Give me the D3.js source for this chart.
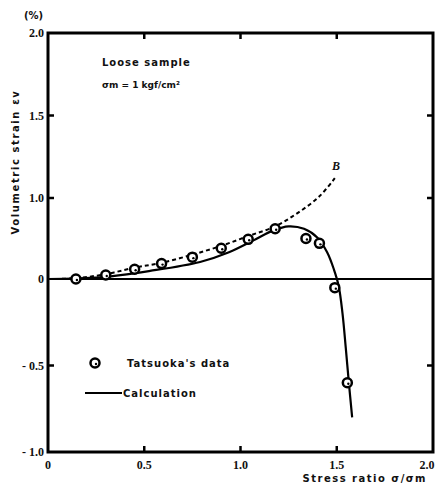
<!DOCTYPE html>
<html>
<head>
<meta charset="utf-8">
<script src="https://cdn.jsdelivr.net/npm/d3@7"></script>
<style>
  body { margin: 0; background: #fff; }
  text { fill: #111; }
</style>
</head>
<body>
<div id="chart"></div>
<script>
// Tatsuoka's data (stress ratio, volumetric strain %)
var dataX = [0.145, 0.30, 0.45, 0.59, 0.75, 0.90, 1.04, 1.18, 1.34, 1.41, 1.49, 1.555];
var dataY = [0.00, 0.05, 0.12, 0.19, 0.27, 0.38, 0.49, 0.62, 0.50, 0.44, -0.05, -0.60];

// calculation (solid line)
var calcX = [0, 0.27, 0.53, 0.79, 0.94, 1.07, 1.17, 1.25, 1.33, 1.40, 1.45, 1.485, 1.51, 1.53, 1.547, 1.563, 1.58];
var calcY = [0, 0.02, 0.10, 0.21, 0.33, 0.48, 0.60, 0.65, 0.62, 0.51, 0.33, 0.12, -0.04, -0.20, -0.40, -0.60, -0.80];

// curve B (dashed)
var bX = [0, 0.145, 0.30, 0.45, 0.59, 0.75, 0.90, 1.04, 1.18, 1.30, 1.41, 1.49];
var bY = [0, 0.01, 0.06, 0.14, 0.20, 0.30, 0.41, 0.53, 0.65, 0.82, 1.01, 1.12];

var xTicks = [0, 0.5, 1.0, 1.5, 2.0];
var xTickLabels = ["0", "0.5", "1.0", "1.5", "2.0"];
var yTicks = [-1.0, -0.5, 0, 1.0, 1.5, 2.0];
var yTickLabels = ["- 1.0", "- 0.5", "0", "1.0", "1.5", "2.0"];

var W = 438, H = 485;
var svg = d3.select('#chart').append('svg')
    .attr('width', W)
    .attr('height', H);

var x = d3.scaleLinear().domain([0, 2]).range([48, 433]);
// the printed axis is not uniform between 0 and 1.0
var y = d3.scaleLinear().domain([-1, 0, 1, 2]).range([452, 279, 198, 33]);

var tickFont = "'Liberation Serif', serif";
var labFont = "'DejaVu Sans', sans-serif";

// inward ticks on all four sides
var tl = 6;
svg.append('g').selectAll('line.xb').data(xTicks.slice(1, 4)).enter().append('line')
    .attr('x1', d => x(d)).attr('x2', d => x(d))
    .attr('y1', y(-1)).attr('y2', y(-1) - tl)
    .attr('stroke', '#000').attr('stroke-width', 2.5);
svg.append('g').selectAll('line.xt').data(xTicks.slice(1, 4)).enter().append('line')
    .attr('x1', d => x(d)).attr('x2', d => x(d))
    .attr('y1', y(2)).attr('y2', y(2) + tl)
    .attr('stroke', '#000').attr('stroke-width', 2.5);
svg.append('g').selectAll('line.yl').data([-0.5, 1.0, 1.5]).enter().append('line')
    .attr('x1', x(0)).attr('x2', x(0) + tl)
    .attr('y1', d => y(d)).attr('y2', d => y(d))
    .attr('stroke', '#000').attr('stroke-width', 2.5);
svg.append('g').selectAll('line.yr').data([-0.5, 1.0, 1.5]).enter().append('line')
    .attr('x1', x(2)).attr('x2', x(2) - tl)
    .attr('y1', d => y(d)).attr('y2', d => y(d))
    .attr('stroke', '#000').attr('stroke-width', 2.5);

// frame
svg.append('rect')
    .attr('x', x(0)).attr('y', y(2))
    .attr('width', x(2) - x(0)).attr('height', y(-1) - y(2))
    .attr('fill', 'none').attr('stroke', '#000').attr('stroke-width', 3);

// zero line
svg.append('line')
    .attr('x1', x(0)).attr('x2', x(2))
    .attr('y1', y(0)).attr('y2', y(0))
    .attr('stroke', '#000').attr('stroke-width', 2);

// tick labels
svg.append('g').selectAll('text').data(xTicks).enter().append('text')
    .attr('x', d => Math.min(x(d), 427)).attr('y', 469)
    .attr('text-anchor', 'middle')
    .style('font', "bold 12px " + tickFont)
    .text((d, i) => xTickLabels[i]);
svg.append('g').selectAll('text').data(yTicks).enter().append('text')
    .attr('x', 44).attr('y', d => y(d) + 4)
    .attr('text-anchor', 'end')
    .style('font', "bold 12px " + tickFont)
    .text((d, i) => yTickLabels[i]);

svg.append('text').attr('x', 24).attr('y', 19)
    .style('font', "bold 10px " + labFont).text('(%)');

// axis titles
svg.append('text')
    .attr('transform', 'translate(19,162) rotate(-90)')
    .attr('text-anchor', 'middle')
    .style('font', "bold 10px " + labFont)
    .style('letter-spacing', '1.6px')
    .text('Volumetric strain εv');
svg.append('text')
    .attr('x', 427).attr('y', 482)
    .attr('text-anchor', 'end')
    .style('font', "bold 10px " + labFont)
    .style('letter-spacing', '1.5px')
    .text('Stress ratio σ/σm');

// annotations
svg.append('text').attr('x', 102).attr('y', 66)
    .style('font', "bold 10px " + labFont).style('letter-spacing', '1px')
    .text('Loose sample');
svg.append('text').attr('x', 102).attr('y', 88)
    .style('font', "bold 9px " + labFont)
    .text('σm = 1 kgf/cm²');

// curves
var bPts = bX.map((v, i) => [v, bY[i]]);
var cPts = calcX.map((v, i) => [v, calcY[i]]);
var line = d3.line().x(d => x(d[0])).y(d => y(d[1])).curve(d3.curveCatmullRom.alpha(0.5));

svg.append('path').datum(bPts)
    .attr('d', line)
    .attr('fill', 'none').attr('stroke', '#000')
    .attr('stroke-width', 2).attr('stroke-dasharray', '4,3');

svg.append('path').datum(cPts)
    .attr('d', line)
    .attr('fill', 'none').attr('stroke', '#000')
    .attr('stroke-width', 2.2);

svg.append('text').attr('x', 332).attr('y', 170)
    .style('font', "italic bold 12px " + tickFont).text('B');

// data points
var pts = dataX.map((v, i) => [v, dataY[i]]);
var dot = svg.append('g').selectAll('g').data(pts).enter().append('g')
    .attr('transform', d => 'translate(' + x(d[0]) + ',' + y(d[1]) + ')');
dot.append('circle').attr('r', 4.5)
    .attr('fill', '#fff').attr('stroke', '#000').attr('stroke-width', 2.5);
dot.append('circle').attr('r', 1.2).attr('cx', 1).attr('cy', 1).attr('fill', '#000');

// legend
var lg = svg.append('g');
lg.append('circle').attr('cx', 95).attr('cy', 363).attr('r', 4.5)
    .attr('fill', '#fff').attr('stroke', '#000').attr('stroke-width', 2.5);
lg.append('circle').attr('cx', 96).attr('cy', 364).attr('r', 1.2).attr('fill', '#000');
lg.append('text').attr('x', 127).attr('y', 367)
    .style('font', "bold 10px " + labFont).style('letter-spacing', '1px')
    .text("Tatsuoka's data");
lg.append('line').attr('x1', 85).attr('x2', 122).attr('y1', 393).attr('y2', 393)
    .attr('stroke', '#000').attr('stroke-width', 2);
lg.append('text').attr('x', 123).attr('y', 397)
    .style('font', "bold 10px " + labFont).style('letter-spacing', '1px')
    .text('Calculation');
</script>
</body>
</html>
